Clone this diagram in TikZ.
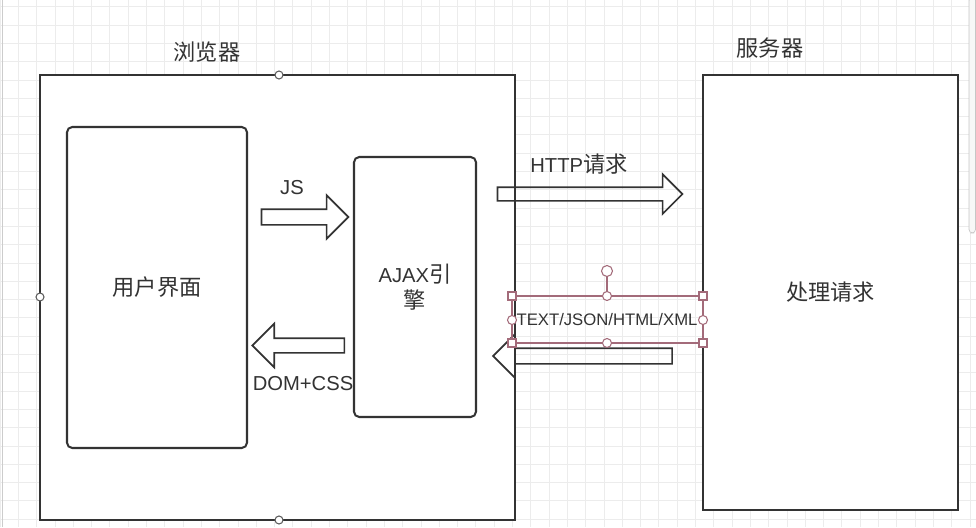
\documentclass[tikz,border=0pt]{standalone}
\usepackage{fontspec}
\setmainfont{Liberation Sans}
\newfontfamily\cjk[Scale=1.1]{Noto Sans CJK SC}
\usetikzlibrary{shapes.arrows}
\definecolor{ink}{HTML}{333333}
\definecolor{gridc}{HTML}{ECECEC}
\definecolor{selc}{HTML}{A36B7A}
\newcommand{\pxu}{0.02cm}

\begin{document}
\begin{tikzpicture}[x=0.02cm,y=-0.02cm,font=\fontsize{11.5}{13.5}\selectfont,text=ink,
  box/.style={draw=ink,line width=1.15pt,fill=white,inner sep=0pt},
  rbox/.style={box,rounded corners=3pt},
  fatarrow/.style={single arrow,draw=ink,line width=0.95pt,inner xsep=0pt,inner ysep=7*\pxu,
    single arrow head extend=14*\pxu,outer sep=0pt},
  handle/.style={draw=selc,fill=white,line width=0.6pt}]
\useasboundingbox (0,0) rectangle (976,527);
% canvas
\foreach \k in {0,...,53} \draw[gridc,line width=0.4pt] (18.3*\k,0)--(18.3*\k,527);
\foreach \k in {0,...,28} \draw[gridc,line width=0.4pt] (0,6.7+18.3*\k)--(976,6.7+18.3*\k);
\draw[gray!40,line width=0.5pt] (2,0)--(2,527);
\draw[gray!45,fill=gray!6,line width=0.4pt,rounded corners=2pt] (969,-3) rectangle (975.5,233);

% browser / server
\node[box,minimum width=475*\pxu,minimum height=445*\pxu] (browser) at (277.5,297.5) {};
\node[box,minimum width=255*\pxu,minimum height=435*\pxu] (server) at (830.5,292.5) {{\cjk 处理请求}};
\node (browserlbl) at (207,52) {\cjk 浏览器};
\node (serverlbl) at (770,48) {\cjk 服务器};

\node[rbox,minimum width=180*\pxu,minimum height=321*\pxu] (ui) at (157,287.5) {{\cjk 用户界面}};
\node[rbox,minimum width=122*\pxu,minimum height=260*\pxu,align=center] (ajax) at (415,287) {AJAX{\cjk 引}\\[1pt]{\cjk 擎}};

% arrows
\node[fatarrow,minimum height=87*\pxu] (js) at (301,217) {};
\node[fatarrow,minimum height=92*\pxu,shape border rotate=180,inner ysep=6.5*\pxu,single arrow head extend=14.5*\pxu] (dom) at (302,345.5) {};
\node[fatarrow,minimum height=185*\pxu,inner ysep=6*\pxu,single arrow head extend=13*\pxu] (http) at (586.5,194) {};
\node[fatarrow,minimum height=179*\pxu,shape border rotate=180] (resp) at (586.5,356) {};
\node (jslbl) at (292,188) {JS};
\node (domlbl) at (303,384) {DOM+CSS};
\node (httplbl) at (579,164) {HTTP{\cjk 请求}};

% selected text
\draw[selc,line width=0.6pt] (512,296) rectangle (703,343);
\draw[selc,line width=0.8pt] (607,296)--(607,271);
\node[font=\fontsize{9.5}{11}\selectfont] (fmt) at (607,320) {TEXT/JSON/HTML/XML};
\foreach \x/\y in {512/296,703/296,512/343,703/343}
  \draw[handle] (\x-4,\y-4) rectangle (\x+4,\y+4);
\foreach \x/\y in {607/296,607/343,512/320,703/320}
  \draw[handle] (\x,\y) circle (4.5);
\draw[handle] (607,271) circle (5.5);
\foreach \x/\y in {279/75,279/520,40/297}
  \draw[draw=ink!80,fill=white,line width=0.6pt] (\x,\y) circle (4);
\end{tikzpicture}
\end{document}
